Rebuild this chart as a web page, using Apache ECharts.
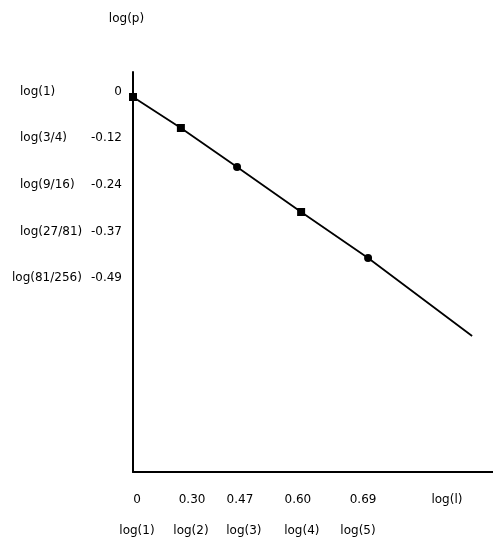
<!DOCTYPE html>
<html>
<head>
<meta charset="UTF-8">
<title>log(p) / log(l)</title>
<script src="https://cdn.jsdelivr.net/npm/echarts@6/dist/echarts.min.js"></script>
<style>
  html, body { margin: 0; padding: 0; background: #fff; }
  #main { width: 493px; height: 540px; }
</style>
</head>
<body>
<div id="main"></div>
<script>
// points (diagram units: x 0..10, y -15..1)
var pointX = [0, 1.33, 2.89, 4.67, 6.53, 9.42];
var pointY = [0, -1.24, -2.8, -4.6, -6.44, -9.56];

// x axis labels, two rows
var xTickAt = [0.11, 1.64, 2.97, 4.58, 6.39, 8.72];
var xTickText = ['0', '0.30', '0.47', '0.60', '0.69', 'log(l)'];
var xLogAt = [0.11, 1.61, 3.08, 4.69, 6.25];
var xLogText = ['log(1)', 'log(2)', 'log(3)', 'log(4)', 'log(5)'];

// y axis labels, two columns
var yTickAt = [0.2, -1.64, -3.52, -5.4, -7.24];
var yTickText = ['0', '-0.12', '-0.24', '-0.37', '-0.49'];
var yLogText = ['log(1)', 'log(3/4)', 'log(9/16)', 'log(27/81)', 'log(81/256)'];

var font = { fontFamily: 'DejaVu Sans', fontSize: 12, color: '#000' };

// value -> label text (nearest position)
function pick(at, text) {
  return function (v) {
    var best = 0;
    for (var i = 1; i < at.length; i++) {
      if (Math.abs(at[i] - v) < Math.abs(at[best] - v)) best = i;
    }
    return text[best];
  };
}

var symbols = ['rect', 'rect', 'circle', 'rect', 'circle', 'none'];
var seriesData = [];
for (var i = 0; i < pointX.length; i++) {
  seriesData.push({ value: [pointX[i], pointY[i]], symbol: symbols[i] });
}

var myChart = echarts.init(document.getElementById('main'));

var option = {
  animation: false,
  backgroundColor: '#fff',
  grid: { left: 133, right: 0, top: 72, bottom: 68 },
  xAxis: [
    {
      type: 'value', min: 0, max: 10,
      axisLine: { onZero: false, lineStyle: { color: '#000', width: 2 } },
      axisTick: { show: false },
      splitLine: { show: false },
      axisLabel: Object.assign({ customValues: xTickAt, margin: 22, formatter: pick(xTickAt, xTickText) }, font)
    },
    {
      type: 'value', min: 0, max: 10, position: 'bottom',
      axisLine: { show: false },
      axisTick: { show: false },
      splitLine: { show: false },
      axisLabel: Object.assign({ customValues: xLogAt, margin: 53, formatter: pick(xLogAt, xLogText) }, font)
    }
  ],
  yAxis: [
    {
      type: 'value', min: -15, max: 1,
      name: 'log(p)', nameLocation: 'end', nameGap: 47,
      nameTextStyle: Object.assign({ padding: [0, 13, 0, 0] }, font),
      axisLine: { onZero: false, lineStyle: { color: '#000', width: 2 } },
      axisTick: { show: false },
      splitLine: { show: false },
      axisLabel: Object.assign({ customValues: yTickAt, margin: 11, formatter: pick(yTickAt, yTickText) }, font)
    },
    {
      type: 'value', min: -15, max: 1, position: 'left',
      axisLine: { show: false },
      axisTick: { show: false },
      splitLine: { show: false },
      axisLabel: Object.assign({
        customValues: yTickAt, margin: 121, align: 'left',
        formatter: function (v) {
          var t = pick(yTickAt, yLogText)(v);
          return t.length > 10 ? '{w|' + t + '}' : '{n|' + t + '}';
        },
        rich: {
          n: Object.assign({ padding: [0, 0, 0, 8] }, font),
          w: Object.assign({}, font)
        }
      }, font)
    }
  ],
  series: [
    {
      type: 'line',
      xAxisIndex: 0,
      yAxisIndex: 0,
      data: seriesData,
      symbolSize: 8,
      lineStyle: { color: '#000', width: 1.8 },
      itemStyle: { color: '#000' }
    }
  ]
};

myChart.setOption(option);
</script>
</body>
</html>
